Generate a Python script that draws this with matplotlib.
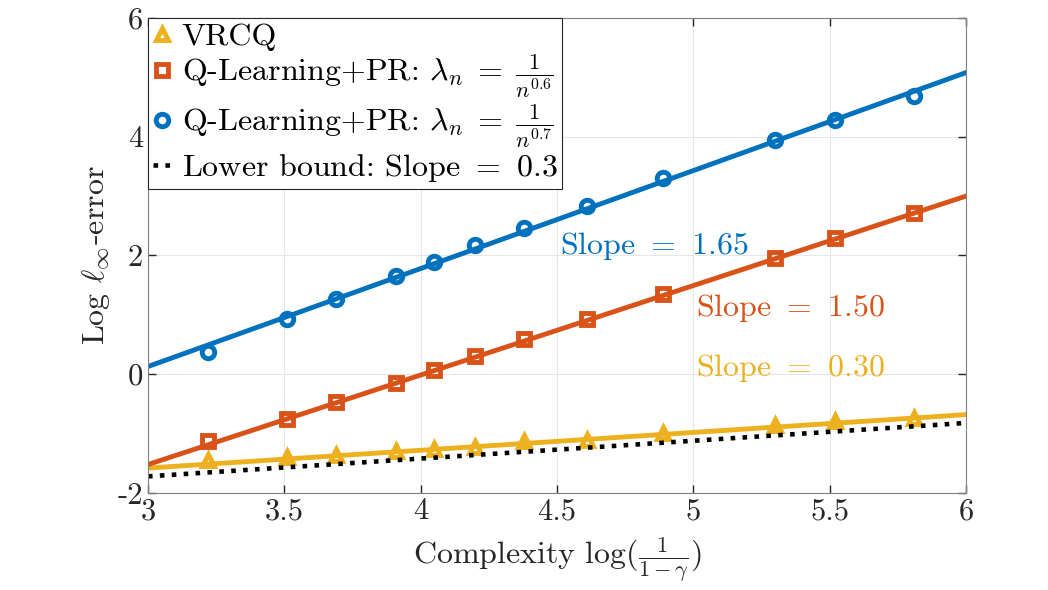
import numpy as np
import matplotlib
matplotlib.use('Agg')
import matplotlib.pyplot as plt

plt.rcParams['font.family'] = 'serif'
plt.rcParams['font.serif'] = ['cmr10']
plt.rcParams['mathtext.fontset'] = 'cm'
plt.rcParams['axes.formatter.use_mathtext'] = False

# data
x = [3.22, 3.51, 3.69, 3.91, 4.05, 4.20, 4.38, 4.61, 4.89, 5.30, 5.52, 5.81]
vrcq = [-1.45, -1.39, -1.36, -1.29, -1.26, -1.22, -1.13, -1.10, -0.99, -0.86, -0.79, -0.74]
ql06 = [-1.12, -0.75, -0.47, -0.15, 0.07, 0.31, 0.59, 0.93, 1.35, 1.96, 2.29, 2.72]
ql07 = [0.38, 0.93, 1.27, 1.66, 1.89, 2.17, 2.47, 2.84, 3.31, 3.95, 4.28, 4.69]

# fitted lines (endpoints at x = 3 and x = 6)
fit_x = [3, 6]
fit_vrcq = [-1.58, -0.68]
fit_ql06 = [-1.52, 3.0]
fit_ql07 = [0.13, 5.08]
lower = [-1.72, -0.82]

blue = '#0072BD'
red = '#D95319'
yellow = '#EDB120'

fig = plt.figure(figsize=(10.48, 5.9), dpi=100)
ax = fig.add_axes([0.1412, 0.1644, 0.7805, 0.8051])

ax.plot(fit_x, fit_vrcq, color=yellow, lw=3.5)
ax.plot(fit_x, fit_ql06, color=red, lw=3.5)
ax.plot(fit_x, fit_ql07, color=blue, lw=3.5)

ax.plot(x, vrcq, '^', color=yellow, ms=9, mfc='none', mew=3.5, label='VRCQ')
ax.plot(x, ql06, 's', color=red, ms=8, mfc='none', mew=3.5,
        label=r'Q-Learning+PR: $\lambda_n\;=\;\frac{1}{n^{0.6}}$')
ax.plot(x, ql07, 'o', color=blue, ms=9, mfc='none', mew=3.5,
        label=r'Q-Learning+PR: $\lambda_n\;=\;\frac{1}{n^{0.7}}$')
ax.plot(fit_x, lower, color='black', lw=3.3, dashes=(1, 1.6),
        dash_capstyle='butt', label=r'Lower bound: Slope $=$ 0.3')

ax.text(4.51, 2.16, r'Slope $=$ 1.65', color=blue, fontsize=23, va='center')
ax.text(5.01, 1.11, r'Slope $=$ 1.50', color=red, fontsize=23, va='center')
ax.text(5.01, 0.10, r'Slope $=$ 0.30', color=yellow, fontsize=23, va='center')

ax.set_xlim(3, 6)
ax.set_ylim(-2, 6)
ax.set_xticks([3, 3.5, 4, 4.5, 5, 5.5, 6])
ax.set_xticklabels(['3', '3.5', '4', '4.5', '5', '5.5', '6'])
ax.set_yticks([-2, 0, 2, 4, 6])
ax.set_yticklabels(['-2', '0', '2', '4', '6'])
ax.tick_params(direction='in', top=True, right=True, labelsize=22,
               colors='#262626', length=6, width=1)
for s in ax.spines.values():
    s.set_color('#808080')
ax.grid(True, color='#e6e6e6', lw=0.8)
ax.set_axisbelow(True)

ax.set_xlabel(r'Complexity log$(\frac{1}{1-\gamma})$', fontsize=23, color='#262626',
              labelpad=8)
ax.set_ylabel(r'Log $\ell_\infty$-error', fontsize=23, color='#262626')

leg = ax.legend(loc='upper left', fontsize=23, handlelength=0.6, handletextpad=0.3,
                borderaxespad=0.0, borderpad=0.15, labelspacing=0.05, fancybox=False,
                framealpha=1, edgecolor='#262626')
leg.get_frame().set_linewidth(0.8)

fig.savefig('out.png', dpi=100)
